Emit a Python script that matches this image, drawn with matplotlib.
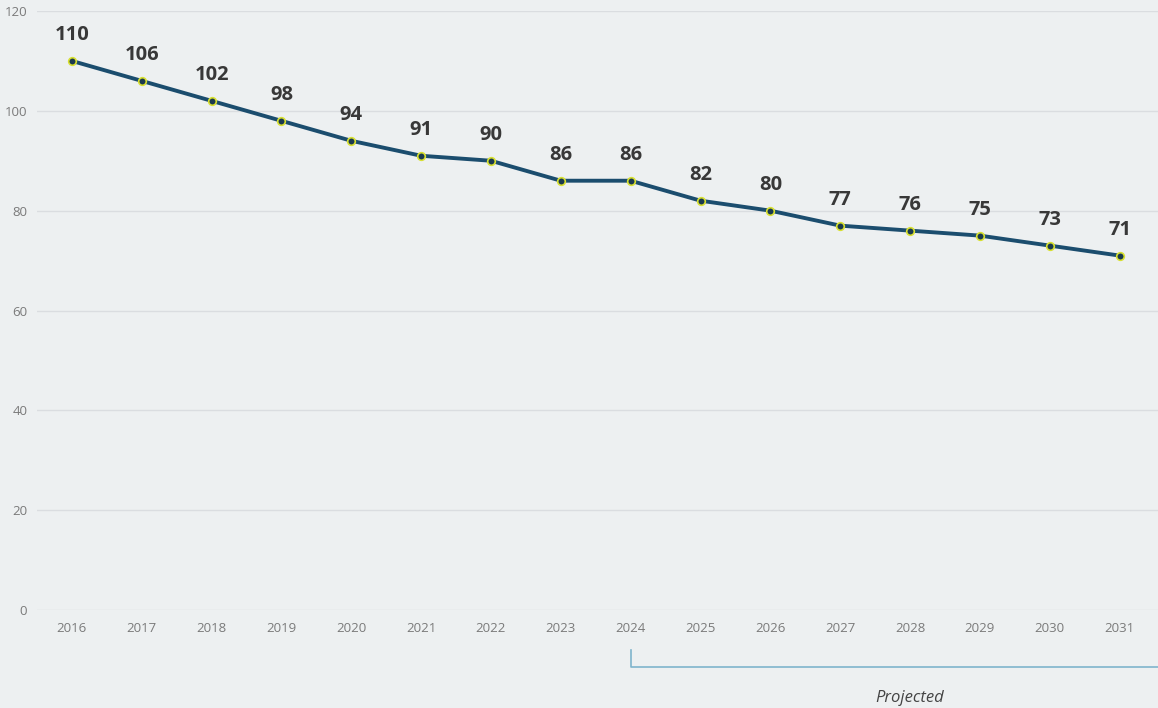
import matplotlib.pyplot as plt
import numpy as np

years = [2016, 2017, 2018, 2019, 2020, 2021, 2022, 2023,
         2024, 2025, 2026, 2027, 2028, 2029, 2030, 2031]
values = [110, 106, 102, 98, 94, 91, 90, 86, 86, 82, 80, 77, 76, 75, 73, 71]
yticks = [0, 20, 40, 60, 80, 100, 120]
projected_start = 2024

plt.rcParams['font.family'] = ['Open Sans', 'DejaVu Sans']

fig = plt.figure(figsize=(11.58, 7.08), dpi=100)
fig.patch.set_facecolor('#edf0f1')
ax = fig.add_axes([37 / 1158, 98 / 708, 1 - 37 / 1158, 599 / 708])
ax.set_facecolor('none')

ax.set_xlim(2015.5, 2031.55)
ax.set_ylim(0, 120)
ax.set_yticks(yticks)
ax.set_xticks(years)
ax.grid(axis='y', color='#dadde0', linewidth=1)
ax.set_axisbelow(True)
for s in ax.spines.values():
    s.set_visible(False)
ax.tick_params(length=0, colors='#7a7a7a', labelsize=9.5)
ax.tick_params(axis='x', pad=9)
ax.tick_params(axis='y', pad=7)

ax.plot(years, values, color='#1b4d6e', linewidth=2.8, zorder=3)
ax.scatter(years, values, s=30, color='#1b3a4e', edgecolors='#d8e030',
           linewidths=1.2, zorder=4)

for x, v in zip(years, values):
    ax.annotate(str(v), (x, v), xytext=(0, 11.5), textcoords='offset points',
                ha='center', va='bottom', fontsize=14.5, fontweight='bold',
                color='#383838')

# projected bracket
ax.plot([projected_start, projected_start, 2031.55], [-8, -11.4, -11.4],
        color='#7fb4cc', linewidth=1.2, clip_on=False)
ax.text(2028.0, -17.6, 'Projected', ha='center',
        va='center', fontsize=12, style='italic', color='#444444')

fig.savefig('out.png', dpi=100, facecolor=fig.get_facecolor())
